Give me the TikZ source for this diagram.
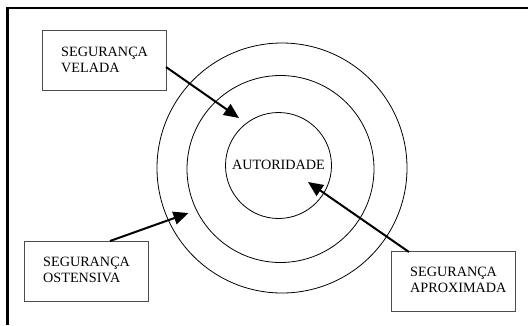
\documentclass[tikz,border=0pt]{standalone}
\usepackage{fontspec}
\setmainfont{Liberation Serif}
\usetikzlibrary{arrows.meta}
\begin{document}
\begin{tikzpicture}[x=1pt,y=-1pt,
  ring/.style={draw=black,line width=0.8pt},
  labelbox/.style={draw=black!70,line width=1pt,minimum width=124pt,minimum height=60pt,inner sep=0pt},
  labeltext/.style={align=left,font=\fontsize{14.2}{16}\selectfont,inner sep=0pt,anchor=north west},
  pointer/.style={line width=2pt,-{Triangle[length=15pt,width=13pt]}},
  frame/.style={line width=3pt}]
\useasboundingbox (0,0) rectangle (528,325);
\fill[white] (0,0) rectangle (528,325);
% frame
\coordinate (ftl) at (6,8);
\coordinate (ftr) at (528,8);
\coordinate (fbl) at (7.5,325);
\draw[line width=2.2pt] (ftl) -- (ftr);
\draw[frame] (7.5,6.9) -- (fbl);
% circles
\node[ring,circle,minimum size=250pt,inner sep=0pt] (outer) at (282,168) {};
\node[ring,circle,minimum size=187pt,inner sep=0pt] (middle) at (280.5,169) {};
\node[ring,circle,minimum size=106pt,inner sep=0pt] (inner) at (278.5,165.5) {};
\node[font=\fontsize{14.2}{16}\selectfont,inner sep=0pt] (aut) at (278.5,165) {AUTORIDADE};
% boxes
\node[labelbox] (vel) at (104,60) {};
\node[labeltext] (veltxt) at (61,47) {SEGURANÇA\\VELADA};
\node[labelbox] (ost) at (86,271) {};
\node[labeltext] (osttxt) at (43,257) {SEGURANÇA\\OSTENSIVA};
\node[labelbox] (apr) at (453.5,281) {};
\node[labeltext] (aprtxt) at (410,267) {SEGURANÇA\\APROXIMADA};
% arrow anchors
\coordinate (v0) at (166,67);
\coordinate (v1) at (239,118);
\coordinate (o0) at (110,241);
\coordinate (o1) at (188.5,213);
\coordinate (a0) at (409,252);
\coordinate (a1) at (308,182);
\draw[pointer] (v0) -- (v1);
\draw[pointer] (o0) -- (o1);
\draw[pointer] (a0) -- (a1);
\end{tikzpicture}
\end{document}
